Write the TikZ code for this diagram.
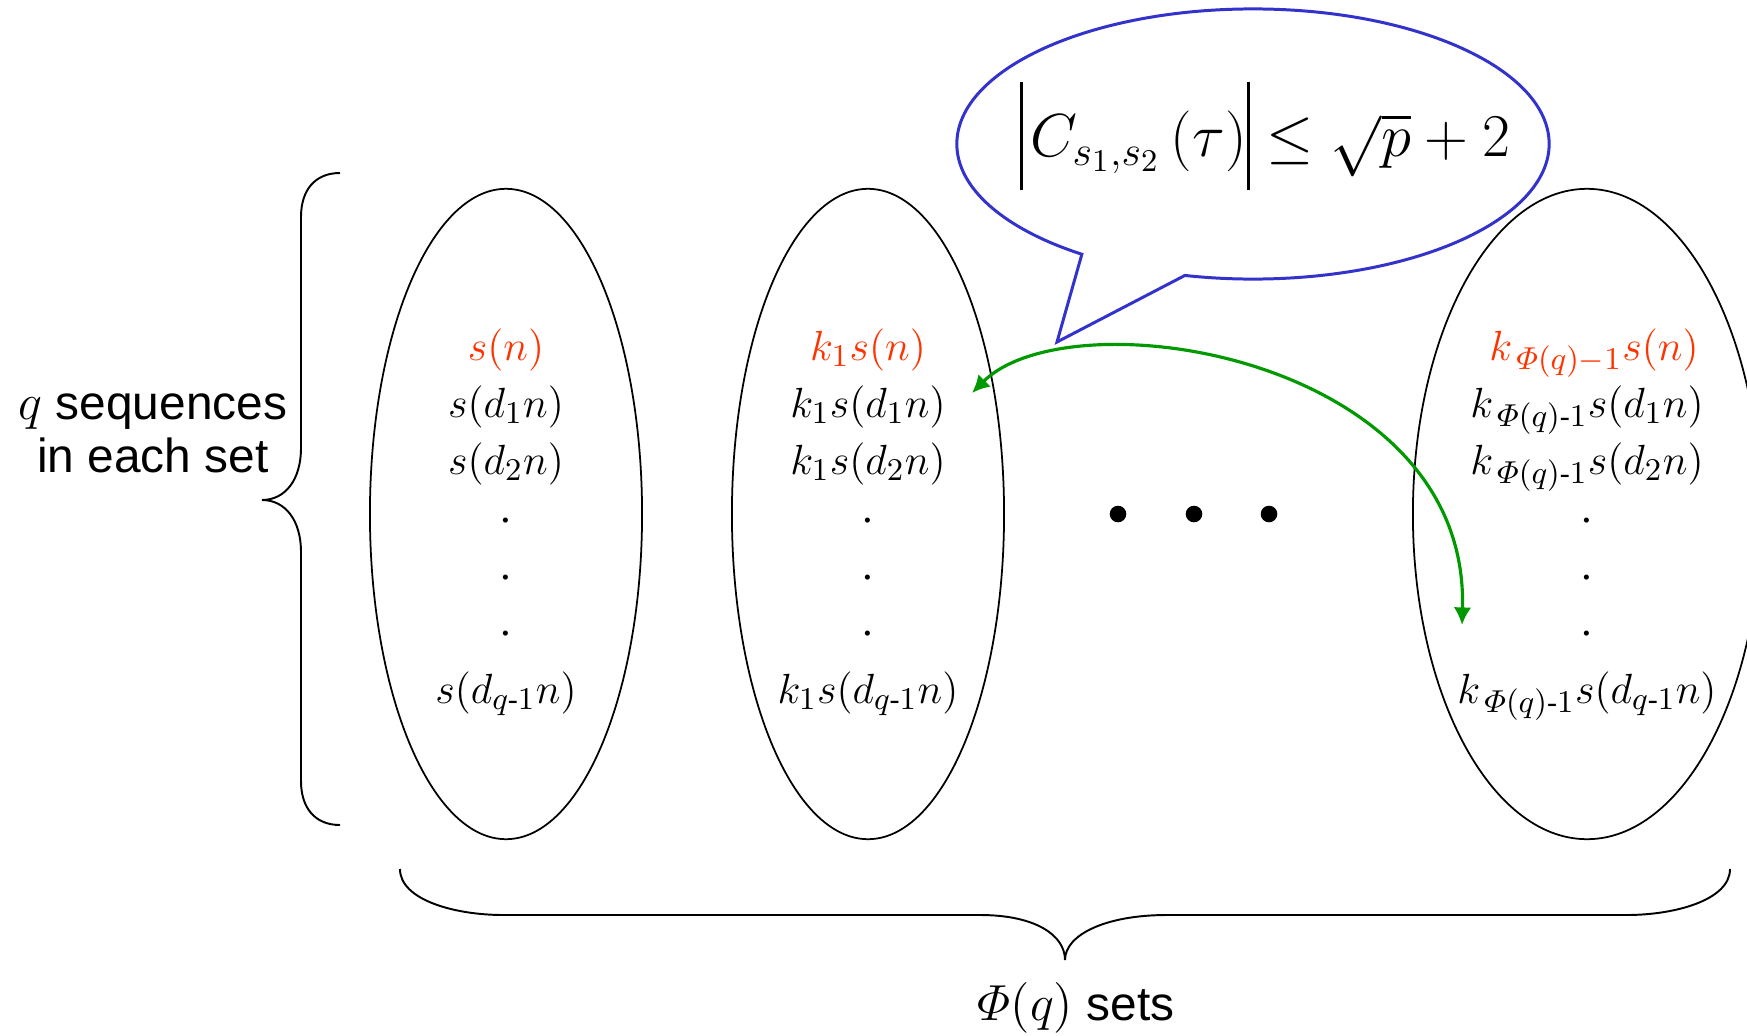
\documentclass[tikz,border=0pt]{standalone}
\usepackage{amsmath}
\usepackage{fontspec}
\setmainfont{Liberation Serif}
\setsansfont{Liberation Sans}
\usepackage{xcolor}
\usepackage{tikz}
\usetikzlibrary{
    arrows.meta,
    positioning,
    shapes.geometric,
    shapes.callouts
}

\definecolor{firstred}{RGB}{255,51,0}
\definecolor{boundblue}{RGB}{51,51,204}
\definecolor{linkgreen}{RGB}{0,153,0}

\newcommand{\mh}{\text{-}}
\newcommand{\tallbar}{\rule[-0.52em]{0.05em}{1.67em}}

\begin{document}
\begin{tikzpicture}[
        x=0.01cm, y=-0.01cm,
        setbox/.style={
            ellipse,
            draw,
            line width=0.5pt,
            minimum width=2.72cm,
            minimum height=6.5cm,
            inner sep=0pt
        },
        seq/.style={
            anchor=base,
            inner sep=0pt,
            font=\fontsize{12.2}{15}\selectfont
        },
        firstseq/.style={
            seq,
            text=firstred
        },
        bigdot/.style={
            circle,
            fill,
            minimum size=0.166cm,
            inner sep=0pt
        },
        brace/.style={
            line width=0.55pt
        },
        link/.style={
            {Latex[length=5pt,width=5pt]}-{Latex[length=5pt,width=5pt]},
            draw=linkgreen,
            line width=0.9pt
        },
        sidetext/.style={
            align=center,
            font=\sffamily\fontsize{13.6}{15.1}\selectfont
        }
    ]

    \useasboundingbox (0,0) rectangle (1747,1036);
    \clip (0,0) rectangle (1747,1036);

    % the three sets
    \node[setbox] (set1) at (506,514) {};
    \node[setbox] (set2) at (868,514) {};
    \node[setbox, minimum width=3.48cm] (set3) at (1587,514) {};

    % first set
    \node[firstseq] (s1n) at (506,360) {$s(n)$};
    \node[seq] (s1a) at (506,417) {$s(d_1n)$};
    \node[seq] (s1b) at (506,474) {$s(d_2n)$};
    \node[seq] (s1c) at (506,522) {.};
    \node[seq] (s1d) at (506,579) {.};
    \node[seq] (s1e) at (506,635) {.};
    \node[seq] (s1q) at (506,703) {$s(d_{q\mh1}n)$};

    % second set
    \node[firstseq] (s2n) at (868,360) {$k_1s(n)$};
    \node[seq] (s2a) at (868,417) {$k_1s(d_1n)$};
    \node[seq] (s2b) at (868,474) {$k_1s(d_2n)$};
    \node[seq] (s2c) at (868,522) {.};
    \node[seq] (s2d) at (868,579) {.};
    \node[seq] (s2e) at (868,635) {.};
    \node[seq] (s2q) at (868,703) {$k_1s(d_{q\mh1}n)$};

    % last set
    \node[firstseq] (s3n) at (1594,360) {$k_{\,\varPhi(q)-1}s(n)$};
    \node[seq] (s3a) at (1587,417) {$k_{\,\varPhi(q)\mh1}s(d_1n)$};
    \node[seq] (s3b) at (1587,474) {$k_{\,\varPhi(q)\mh1}s(d_2n)$};
    \node[seq] (s3c) at (1587,522) {.};
    \node[seq] (s3d) at (1587,579) {.};
    \node[seq] (s3e) at (1587,635) {.};
    \node[seq] (s3q) at (1587,703) {$k_{\,\varPhi(q)\mh1}s(d_{q\mh1}n)$};

    % sets in between
    \node[bigdot] (more1) at (1118,514) {};
    \node[bigdot] (more2) at (1194,514) {};
    \node[bigdot] (more3) at (1269,514) {};

    % correlation bound
    \node[
        ellipse callout,
        draw=boundblue,
        line width=0.85pt,
        minimum width=5.92cm,
        minimum height=2.7cm,
        inner sep=0pt,
        callout absolute pointer={(1057,342)},
        callout pointer arc=22
    ] (bound) at (1253,144) {};
    \node[font=\fontsize{18.5}{22}\selectfont] (boundtext) at (1265,136)
        {$\mathopen{\tallbar}\mkern2mu C_{s_1,s_2}\,(\tau)\mathclose{\tallbar}\le\sqrt{p}+2$};

    \coordinate (linkfrom) at (972,393);
    \coordinate (linkto) at (1462,625);
    \draw[link] (linkfrom) .. controls (1070,295) and (1470,355) .. (linkto);

    % braces
    \draw[brace] (340,173) .. controls (315,173) and (301,190) .. (301,217)
        -- (301,448) .. controls (301,480) and (285,500) .. (262,500)
        .. controls (285,500) and (301,520) .. (301,552)
        -- (301,781) .. controls (301,808) and (315,825) .. (340,825);
    \node[sidetext] (perset) at (153,433) {$q$ sequences\\in each set};

    \draw[brace] (400,869) .. controls (400,900) and (455,915) .. (503,915)
        -- (980,915) .. controls (1035,915) and (1065,935) .. (1065,960)
        .. controls (1065,935) and (1105,915) .. (1167,915)
        -- (1627,915) .. controls (1675,915) and (1730,900) .. (1730,869);
    \node[sidetext] (numsets) at (1076,1008) {$\varPhi(q)$ sets};

\end{tikzpicture}
\end{document}
